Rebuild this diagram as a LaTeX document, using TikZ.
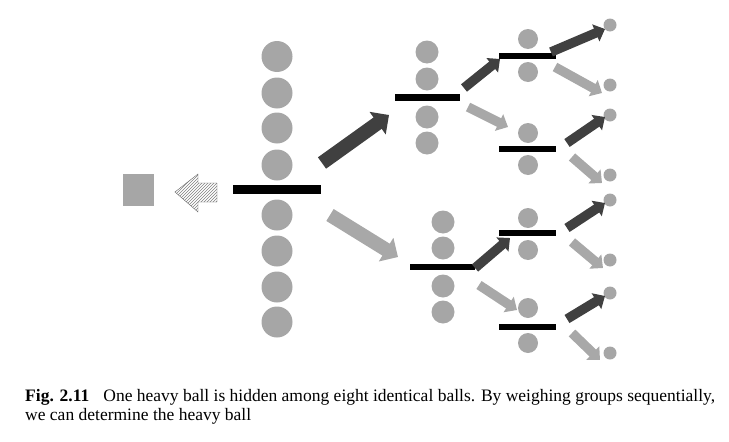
\documentclass[tikz,border=0pt]{standalone}
\usepackage{fontspec}
\setmainfont{Liberation Serif}
\usetikzlibrary{arrows.meta,patterns}
\definecolor{ballgray}{HTML}{A6A6A6}
\definecolor{darkarr}{HTML}{404040}
\definecolor{lightarr}{HTML}{A8A8A8}
\begin{document}
\begin{tikzpicture}[x=1pt,y=-1pt,
  ball/.style={circle,fill=ballgray,inner sep=0pt,minimum size=#1},
  bar/.style={rectangle,fill=black,inner sep=0pt,minimum width=#1},
  bigdark/.style={draw=darkarr,line width=14pt,-{Triangle[length=14pt,width=27pt]}},
  biglight/.style={draw=lightarr,line width=14pt,-{Triangle[length=14pt,width=27pt]}},
  smalldark/.style={draw=darkarr,line width=9.5pt,-{Triangle[length=10pt,width=18pt]}},
  smalllight/.style={draw=lightarr,line width=9.5pt,-{Triangle[length=10pt,width=18pt]}}]
\useasboundingbox (0,0) rectangle (729,442);
% left result
\node[rectangle,fill=ballgray,minimum width=31pt,minimum height=32pt,inner sep=0pt] (sq) at (138.5,190) {};
\draw[draw=darkarr!80,pattern=north east lines,pattern color=gray] (175,192) -- (198,174) -- (198,183) -- (217,183) -- (217,202) -- (198,202) -- (198,212) -- cycle;
% main column
\foreach \y [count=\i] in {56.5,93,128,165,215,251,287,322}
  \node[ball=31pt] (m\i) at (277,\y) {};
\node[bar=88pt,minimum height=9pt] (mbar) at (277,189.5) {};
% level 2
\foreach \y [count=\i] in {52,79,117,143}
  \node[ball=23pt] (t\i) at (427,\y) {};
\node[bar=65pt,minimum height=6.5pt] (tbar) at (427.5,97.5) {};
\foreach \y [count=\i] in {222,248,286,312}
  \node[ball=23pt] (u\i) at (443,\y) {};
\node[bar=65pt,minimum height=6.5pt] (ubar) at (442.5,267) {};
% level 3
\foreach \a/\b/\c [count=\i] in {39/56/72,133/149/165,218/233/250,308/327/343}{
  \node[ball=20pt] (g\i a) at (528,\a) {};
  \node[bar=57pt,minimum height=5.5pt] (g\i bar) at (527.5,\b) {};
  \node[ball=20pt] (g\i b) at (528,\c) {};
}
% final balls
\foreach \y [count=\i] in {25,85,115,175,200,260,293,353}
  \node[ball=13pt] (f\i) at (610,\y) {};
% arrow end points
\coordinate (a1s) at (322,163); \coordinate (a1e) at (389,115);
\coordinate (a2s) at (330,215); \coordinate (a2e) at (398,257);
\coordinate (b1s) at (464,88);  \coordinate (b1e) at (500,59);
\coordinate (b2s) at (468,107); \coordinate (b2e) at (508,127);
\coordinate (b3s) at (475,268); \coordinate (b3e) at (510,238);
\coordinate (b4s) at (479,285); \coordinate (b4e) at (517,310);
\coordinate (c1s) at (551,52);  \coordinate (c1e) at (605,29);
\coordinate (c2s) at (555,67);  \coordinate (c2e) at (602,93);
\coordinate (c3s) at (567,143); \coordinate (c3e) at (605,117);
\coordinate (c4s) at (572,157); \coordinate (c4e) at (602,183);
\coordinate (c5s) at (567,228); \coordinate (c5e) at (605,203);
\coordinate (c6s) at (572,242); \coordinate (c6e) at (603,268);
\coordinate (c7s) at (567,319); \coordinate (c7e) at (605,296);
\coordinate (c8s) at (572,333); \coordinate (c8e) at (600,360);
\draw[bigdark] (a1s) -- (a1e);
\draw[biglight] (a2s) -- (a2e);
\draw[smalldark] (b1s) -- (b1e);
\draw[smalllight] (b2s) -- (b2e);
\draw[smalldark] (b3s) -- (b3e);
\draw[smalllight] (b4s) -- (b4e);
\foreach \i/\j in {1/2,3/4,5/6,7/8}{
  \draw[smalldark] (c\i s) -- (c\i e);
  \draw[smalllight] (c\j s) -- (c\j e);
}
% caption (base anchor is the baseline of the last line)
\node[anchor=base west,inner sep=0pt,align=left,font=\fontsize{17.5}{19}\selectfont] (cap) at (25,420.5)
  {\textbf{Fig. 2.11}\hspace{0.8em}One heavy ball is hidden among eight identical balls. By weighing groups sequentially,\\we can determine the heavy ball};
\end{tikzpicture}
\end{document}
